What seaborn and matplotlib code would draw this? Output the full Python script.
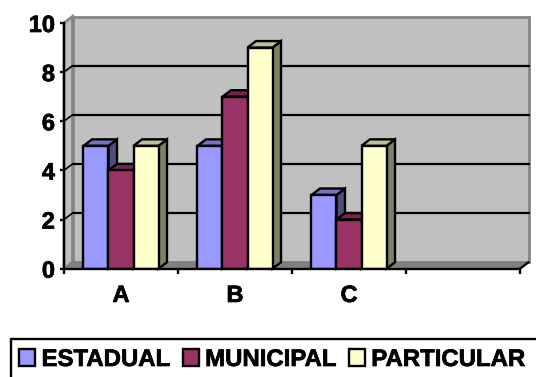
import matplotlib
matplotlib.use("Agg")
import matplotlib.pyplot as plt
import matplotlib.patheffects as pe
from matplotlib.colors import to_rgb
from matplotlib.patches import Polygon, Rectangle
from matplotlib.ticker import FixedLocator, NullFormatter
import pandas as pd
import seaborn as sns

categories = ["A", "B", "C"]
axis_slots = ["A", "B", "C", " "]
estadual = [5, 5, 3]
municipal = [4, 7, 2]
particular = [5, 9, 5]
series_names = ["ESTADUAL", "MUNICIPAL", "PARTICULAR"]
series_colors = ["#9999FF", "#993366", "#FFFFCC"]
value_ticks = [0, 2, 4, 6, 8, 10]

W, H = 536, 377
sns.set_theme(style="white")
plt.rcParams["font.family"] = ["Liberation Sans", "DejaVu Sans"]
plt.rcParams["font.weight"] = "bold"

fig = plt.figure(figsize=(W / 100, H / 100), dpi=100, facecolor="white")
ax = fig.add_axes([64 / W, (H - 268.7) / H, 456 / W, 245.7 / H])

frame = pd.DataFrame({
    "category": categories * 3,
    "series": sum([[n] * 3 for n in series_names], []),
    "value": estadual + municipal + particular,
})
sns.barplot(data=frame, x="category", y="value", hue="series", order=axis_slots,
            hue_order=series_names, palette=series_colors, saturation=1,
            width=0.658, gap=0, edgecolor="black", linewidth=1.7, ax=ax)
handles, labels = ax.get_legend_handles_labels()
ax.get_legend().remove()

xmin, xmax = -0.5, 3.5
ymin, ymax = 0, 10
ax.set_xlim(xmin, xmax)
ax.set_ylim(ymin, ymax)
ax.set_xlabel("")
ax.set_ylabel("")
# Depth of the pseudo-3D extrusion, in data units
dx = 8.5 / 114
dy = 6.5 * 10 / 245.7

wall_edge = "#858585"
wall_fill = "#C0C0C0"


def face(points, **kw):
    kw.setdefault("clip_on", False)
    ax.add_patch(Polygon(points, closed=True, **kw))


# Back wall, side wall and floor
face([(xmin + dx, ymin + dy), (xmax + dx, ymin + dy), (xmax + dx, ymax + dy), (xmin + dx, ymax + dy)],
     facecolor=wall_fill, edgecolor=wall_edge, linewidth=2, zorder=0.5)
face([(xmin, ymin), (xmin + dx, ymin + dy), (xmin + dx, ymax + dy), (xmin, ymax)],
     facecolor=wall_fill, edgecolor=wall_edge, linewidth=2, zorder=0.6)
face([(xmin, ymin), (xmax, ymin), (xmax + dx, ymin + dy), (xmin + dx, ymin + dy)],
     facecolor="#808080", edgecolor="#808080", linewidth=1, zorder=0.7)

# Gridlines run along the back wall, with a diagonal over the side wall
for v in value_ticks[1:-1]:
    ax.plot([xmin + dx, xmax + dx], [v + dy, v + dy], color="black", lw=1.6, zorder=0.8, clip_on=False)
    ax.plot([xmin, xmin + dx], [v, v + dy], color="black", lw=1.2, zorder=0.8, clip_on=False)

# Extrude every bar: side and top faces, painted left to right
bars = sorted([p for p in ax.patches if isinstance(p, Rectangle) and p.get_height() > 0],
              key=lambda p: p.get_x())
for i, bar in enumerate(bars):
    x0, w, h = bar.get_x(), bar.get_width(), bar.get_height()
    r, g, b = to_rgb(bar.get_facecolor())
    z = 2 + i
    face([(x0 + w, 0), (x0 + w + dx, dy), (x0 + w + dx, h + dy), (x0 + w, h)],
         facecolor=(r * 0.5, g * 0.5, b * 0.5), edgecolor="black", linewidth=1.7,
         joinstyle="miter", zorder=z)
    face([(x0, h), (x0 + dx, h + dy), (x0 + w + dx, h + dy), (x0 + w, h)],
         facecolor=(r * 0.75, g * 0.75, b * 0.75), edgecolor="black", linewidth=1.7,
         joinstyle="miter", zorder=z + 0.1)
    bar.set_zorder(z + 0.2)

# Axes: black lines in front, ticks on category boundaries
for side in ["top", "right"]:
    ax.spines[side].set_visible(False)
for side in ["left", "bottom"]:
    ax.spines[side].set_linewidth(1.7)
    ax.spines[side].set_color("black")
    ax.spines[side].set_zorder(20)
ax.plot([xmax, xmax + dx], [0, dy], color="black", lw=1.7, zorder=20, clip_on=False)

ax.set_yticks(value_ticks)
ax.tick_params(axis="y", left=True, length=3, width=1.7, color="black", pad=3.5,
               labelsize=17, labelcolor="black")
ax.xaxis.set_major_locator(FixedLocator([xmin + i for i in range(5)]))
ax.xaxis.set_major_formatter(NullFormatter())
ax.set_xticks(range(len(axis_slots)), axis_slots, minor=True)
ax.tick_params(axis="x", which="major", bottom=True, length=3.5, width=1.7, color="black")
ax.tick_params(axis="x", which="minor", bottom=False, length=0, pad=11,
               labelsize=17, labelcolor="black")

# Legend box runs past the lower and right edges of the canvas
fig.add_artist(Rectangle((10.5 / W, -10 / H), 540 / W, (H - 338.5 + 10) / H,
                         transform=fig.transFigure, facecolor="white",
                         edgecolor="black", linewidth=1.7, zorder=1))
leg = fig.legend(handles, labels, loc="center left",
                 bbox_to_anchor=(19 / W, (H - 359.5) / H), ncols=3, frameon=False,
                 fontsize=17.25, handlelength=0.67, handleheight=0.67,
                 handletextpad=0.27, columnspacing=0.5, borderpad=0, borderaxespad=0,
                 labelcolor="black")
leg.set_zorder(5)
for patch in leg.get_patches():
    patch.set_edgecolor("black")
    patch.set_linewidth(1.7)

# Slightly heavier strokes on all the lettering
heavy = [pe.withStroke(linewidth=0.5, foreground="black")]
for label in ax.get_yticklabels() + ax.get_xticklabels(minor=True) + leg.get_texts():
    label.set_path_effects(heavy)

fig.savefig("out.png", dpi=100)
